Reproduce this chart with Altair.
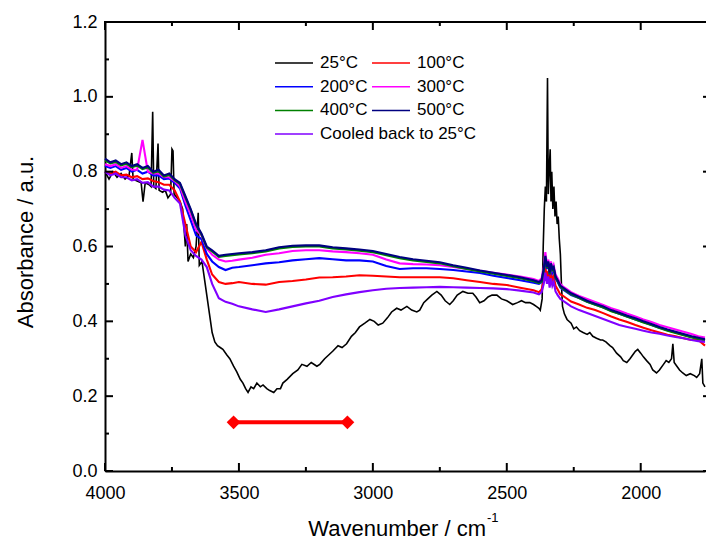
import altair as alt
import pandas as pd

FONT = "Liberation Sans"

# ---------------- data ----------------
wavenumber = [4000, 3980, 3960, 3940, 3920, 3900, 3880, 3860, 3840, 3820,
              3800, 3780, 3760, 3740, 3720, 3700, 3680, 3660, 3640, 3620,
              3600, 3575, 3550, 3525, 3500, 3450, 3400, 3350, 3300, 3250,
              3200, 3150, 3100, 3050, 3000, 2950, 2900, 2850, 2800, 2750,
              2700, 2650, 2600, 2550, 2500, 2450, 2400, 2380, 2370, 2362,
              2356, 2350, 2345, 2340, 2335, 2330, 2325, 2318, 2310, 2300,
              2290, 2280, 2260, 2230, 2200, 2170, 2140, 2110, 2080, 2050,
              2020, 1990, 1960, 1930, 1900, 1870, 1840, 1810, 1785, 1760]

abs_100C = [0.800, 0.795, 0.800, 0.790, 0.792, 0.785, 0.788, 0.780, 0.782, 0.775,
            0.772, 0.765, 0.765, 0.750, 0.720, 0.660, 0.600, 0.585, 0.612, 0.565,
            0.525, 0.505, 0.500, 0.502, 0.505, 0.500, 0.498, 0.505, 0.508, 0.512,
            0.517, 0.518, 0.520, 0.523, 0.522, 0.520, 0.518, 0.518, 0.518, 0.518,
            0.515, 0.510, 0.505, 0.500, 0.497, 0.490, 0.483, 0.478, 0.485, 0.510,
            0.545, 0.515, 0.535, 0.505, 0.530, 0.510, 0.520, 0.495, 0.485, 0.472,
            0.468, 0.463, 0.453, 0.445, 0.436, 0.430, 0.422, 0.413, 0.405, 0.398,
            0.390, 0.383, 0.376, 0.370, 0.364, 0.360, 0.355, 0.350, 0.350, 0.335]

abs_200C = [0.815, 0.810, 0.815, 0.805, 0.810, 0.800, 0.805, 0.795, 0.800, 0.790,
            0.790, 0.780, 0.782, 0.770, 0.755, 0.710, 0.670, 0.630, 0.620, 0.580,
            0.560, 0.545, 0.537, 0.543, 0.545, 0.550, 0.555, 0.558, 0.563, 0.566,
            0.569, 0.566, 0.563, 0.563, 0.560, 0.548, 0.540, 0.542, 0.542, 0.540,
            0.537, 0.533, 0.529, 0.522, 0.516, 0.510, 0.503, 0.500, 0.505, 0.535,
            0.565, 0.540, 0.555, 0.525, 0.550, 0.530, 0.540, 0.515, 0.505, 0.490,
            0.485, 0.480, 0.470, 0.462, 0.452, 0.445, 0.437, 0.428, 0.420, 0.413,
            0.405, 0.398, 0.390, 0.383, 0.376, 0.370, 0.364, 0.358, 0.354, 0.350]

abs_300C = [0.820, 0.815, 0.820, 0.810, 0.815, 0.805, 0.805, 0.885, 0.800, 0.795,
            0.795, 0.785, 0.785, 0.775, 0.760, 0.720, 0.685, 0.645, 0.630, 0.595,
            0.578, 0.565, 0.560, 0.562, 0.565, 0.570, 0.578, 0.582, 0.588, 0.590,
            0.590, 0.587, 0.585, 0.582, 0.578, 0.565, 0.555, 0.553, 0.552, 0.550,
            0.545, 0.540, 0.535, 0.530, 0.525, 0.520, 0.513, 0.508, 0.515, 0.545,
            0.585, 0.550, 0.565, 0.530, 0.560, 0.540, 0.550, 0.525, 0.515, 0.500,
            0.493, 0.488, 0.478, 0.468, 0.460, 0.452, 0.444, 0.435, 0.428, 0.420,
            0.413, 0.405, 0.398, 0.390, 0.384, 0.378, 0.372, 0.366, 0.360, 0.357]

abs_400C = [0.830, 0.822, 0.826, 0.817, 0.821, 0.812, 0.816, 0.807, 0.811, 0.797,
            0.801, 0.787, 0.791, 0.777, 0.767, 0.731, 0.697, 0.657, 0.632, 0.597,
            0.587, 0.572, 0.575, 0.577, 0.579, 0.582, 0.587, 0.595, 0.599, 0.600,
            0.600, 0.595, 0.592, 0.589, 0.585, 0.577, 0.569, 0.563, 0.559, 0.555,
            0.547, 0.540, 0.533, 0.527, 0.521, 0.515, 0.507, 0.502, 0.507, 0.537,
            0.570, 0.542, 0.557, 0.527, 0.552, 0.537, 0.542, 0.517, 0.507, 0.492,
            0.487, 0.482, 0.472, 0.462, 0.452, 0.444, 0.437, 0.427, 0.420, 0.412,
            0.405, 0.397, 0.390, 0.382, 0.375, 0.369, 0.363, 0.357, 0.353, 0.349]

abs_500C = [0.835, 0.825, 0.830, 0.820, 0.825, 0.815, 0.820, 0.810, 0.815, 0.800,
            0.805, 0.790, 0.795, 0.780, 0.770, 0.735, 0.700, 0.660, 0.635, 0.600,
            0.590, 0.575, 0.578, 0.580, 0.582, 0.585, 0.590, 0.598, 0.602, 0.603,
            0.603, 0.598, 0.595, 0.592, 0.588, 0.580, 0.572, 0.566, 0.562, 0.558,
            0.550, 0.543, 0.536, 0.530, 0.524, 0.518, 0.510, 0.505, 0.510, 0.540,
            0.575, 0.545, 0.560, 0.530, 0.555, 0.540, 0.545, 0.520, 0.510, 0.495,
            0.490, 0.485, 0.475, 0.465, 0.455, 0.447, 0.440, 0.430, 0.423, 0.415,
            0.408, 0.400, 0.393, 0.385, 0.378, 0.372, 0.366, 0.360, 0.356, 0.352]

abs_cooled = [0.800, 0.790, 0.795, 0.785, 0.785, 0.777, 0.780, 0.770, 0.772, 0.760,
              0.760, 0.752, 0.750, 0.730, 0.715, 0.630, 0.590, 0.575, 0.565, 0.545,
              0.500, 0.462, 0.452, 0.447, 0.440, 0.432, 0.425, 0.432, 0.440, 0.448,
              0.455, 0.465, 0.472, 0.478, 0.483, 0.487, 0.489, 0.490, 0.491, 0.492,
              0.491, 0.490, 0.489, 0.488, 0.486, 0.482, 0.477, 0.472, 0.478, 0.500,
              0.530, 0.500, 0.520, 0.490, 0.515, 0.495, 0.505, 0.480, 0.470, 0.460,
              0.455, 0.450, 0.440, 0.430, 0.422, 0.414, 0.406, 0.398, 0.390, 0.385,
              0.380, 0.375, 0.370, 0.367, 0.362, 0.358, 0.355, 0.350, 0.347, 0.345]

# 25 °C spectrum: (wavenumber, absorbance)
spectrum_25C = [
    (4000, 0.80), (3985, 0.78), (3970, 0.80), (3955, 0.785), (3940, 0.795),
    (3925, 0.78), (3910, 0.79), (3900, 0.85), (3895, 0.78), (3880, 0.775),
    (3865, 0.77), (3858, 0.72), (3850, 0.77), (3835, 0.765), (3828, 0.76),
    (3822, 0.96), (3818, 0.76), (3810, 0.755), (3802, 0.875), (3798, 0.75),
    (3785, 0.745), (3775, 0.75), (3765, 0.73), (3755, 0.74), (3750, 0.86),
    (3746, 0.855), (3742, 0.74), (3730, 0.73), (3720, 0.72), (3710, 0.70),
    (3700, 0.60), (3695, 0.66), (3690, 0.56), (3680, 0.58), (3670, 0.57),
    (3660, 0.60), (3652, 0.69), (3648, 0.55), (3638, 0.56), (3630, 0.52),
    (3620, 0.47), (3610, 0.42), (3600, 0.37), (3590, 0.345), (3580, 0.335),
    (3570, 0.33), (3560, 0.325), (3545, 0.31), (3534, 0.30), (3520, 0.28),
    (3508, 0.265), (3495, 0.245), (3485, 0.235), (3475, 0.22), (3466, 0.21),
    (3455, 0.225), (3445, 0.22), (3433, 0.235), (3420, 0.225), (3410, 0.23),
    (3396, 0.22), (3385, 0.215), (3370, 0.21), (3358, 0.22), (3345, 0.22),
    (3336, 0.235), (3320, 0.245), (3299, 0.26), (3280, 0.27), (3265, 0.285),
    (3246, 0.28), (3230, 0.29), (3209, 0.28), (3198, 0.285), (3180, 0.30),
    (3165, 0.31), (3150, 0.32), (3130, 0.335), (3115, 0.33), (3098, 0.34),
    (3080, 0.36), (3065, 0.37), (3050, 0.385), (3030, 0.395), (3011, 0.405),
    (2995, 0.40), (2980, 0.39), (2963, 0.395), (2945, 0.41), (2930, 0.425),
    (2911, 0.435), (2895, 0.43), (2873, 0.44), (2855, 0.43), (2836, 0.425),
    (2825, 0.43), (2810, 0.45), (2795, 0.46), (2780, 0.47), (2761, 0.48),
    (2745, 0.47), (2730, 0.455), (2713, 0.445), (2700, 0.455), (2685, 0.47),
    (2664, 0.48), (2645, 0.475), (2627, 0.475), (2615, 0.465), (2601, 0.45),
    (2585, 0.455), (2570, 0.465), (2555, 0.47), (2537, 0.47), (2520, 0.46),
    (2500, 0.455), (2478, 0.445), (2460, 0.45), (2445, 0.455), (2430, 0.45),
    (2414, 0.45), (2400, 0.445), (2390, 0.44), (2380, 0.435), (2375, 0.43),
    (2368, 0.46), (2364, 0.60), (2360, 0.70), (2356, 0.76), (2352, 0.72),
    (2348, 1.05), (2345, 0.74), (2342, 0.80), (2338, 0.86), (2335, 0.72),
    (2332, 0.80), (2328, 0.70), (2324, 0.76), (2320, 0.68), (2316, 0.72),
    (2312, 0.66), (2308, 0.68), (2304, 0.62), (2300, 0.58), (2296, 0.50),
    (2292, 0.44), (2285, 0.42), (2275, 0.405), (2260, 0.395), (2250, 0.38),
    (2240, 0.385), (2228, 0.375), (2215, 0.37), (2200, 0.365), (2190, 0.37),
    (2179, 0.36), (2165, 0.355), (2150, 0.35), (2142, 0.35), (2130, 0.345),
    (2115, 0.335), (2105, 0.33), (2090, 0.315), (2075, 0.305), (2065, 0.295),
    (2052, 0.29), (2040, 0.30), (2030, 0.31), (2020, 0.32), (2011, 0.325),
    (2000, 0.315), (1990, 0.305), (1978, 0.295), (1965, 0.285), (1955, 0.27),
    (1941, 0.262), (1930, 0.27), (1915, 0.285), (1905, 0.295), (1895, 0.29),
    (1885, 0.30), (1880, 0.34), (1875, 0.29), (1865, 0.28), (1855, 0.27),
    (1843, 0.262), (1830, 0.255), (1815, 0.26), (1800, 0.255), (1791, 0.25),
    (1780, 0.26), (1772, 0.30), (1768, 0.235), (1760, 0.225),
]

series_names = ["25°C", "100°C", "200°C", "300°C", "400°C", "500°C",
                "Cooled back to 25°C"]
series_colors = ["#000000", "#FF0000", "#0000FF", "#FF00FF", "#008000",
                 "#000080", "#8000FF"]

x_major = [4000, 3500, 3000, 2500, 2000]
x_minor = [3750, 3250, 2750, 2250]
y_major = [0.0, 0.2, 0.4, 0.6, 0.8, 1.0, 1.2]
y_minor = [0.1, 0.3, 0.5, 0.7, 0.9, 1.1]

band_wn = [3520, 3095]
band_abs = [0.13, 0.13]

# ---------------- chart ----------------
W, H = 600, 449
xs = alt.Scale(domain=[1760, 4000], reverse=True, nice=False, zero=False)
ys = alt.Scale(domain=[0, 1.2], nice=False, zero=False)

x_axis = alt.Axis(values=x_major, format="d", title=None, ticks=False,
                  labelFlush=False, labelOverlap=False, labelFontSize=18,
                  labelFont=FONT, labelColor="black", labelPadding=13,
                  domainColor="black", domainWidth=2, grid=False)
y_axis = alt.Axis(values=y_major, format=".1f", title=None, ticks=False,
                  labelOverlap=False, labelFontSize=18, labelFont=FONT,
                  labelColor="black", labelPadding=8,
                  domainColor="black", domainWidth=2, grid=False)


def X(field):
    return alt.X(field, type="quantitative", scale=xs, axis=x_axis)


def Y(field):
    return alt.Y(field, type="quantitative", scale=ys, axis=y_axis)


layers = []

df25 = pd.DataFrame(spectrum_25C, columns=["wn", "a"])
layers.append(
    alt.Chart(df25).mark_line(color=series_colors[0], strokeWidth=1.6)
    .encode(x=X("wn"), y=Y("a"))
)

other = [abs_100C, abs_200C, abs_300C, abs_400C, abs_500C, abs_cooled]
for vals, color in zip(other, series_colors[1:]):
    assert len(vals) == len(wavenumber)
    d = pd.DataFrame({"wn": wavenumber, "a": vals})
    layers.append(
        alt.Chart(d).mark_line(color=color, strokeWidth=2.1)
        .encode(x=X("wn"), y=Y("a"))
    )

band = pd.DataFrame({"wn": band_wn, "a": band_abs})
layers.append(alt.Chart(band).mark_line(color="#FF0000", strokeWidth=4)
              .encode(x=X("wn"), y=Y("a")))
layers.append(alt.Chart(band).mark_point(shape="diamond", filled=True, size=190,
                                         color="#FF0000", opacity=1)
              .encode(x=X("wn"), y=Y("a")))

# inward ticks (Origin style)
dxM = pd.DataFrame({"wn": x_major})
dxm = pd.DataFrame({"wn": x_minor})
dyM = pd.DataFrame({"a": y_major})
dym = pd.DataFrame({"a": y_minor})
tk = dict(color="black", strokeWidth=2)
RX = W + 6
layers += [
    alt.Chart(dxM).mark_rule(**tk).encode(x=X("wn"), y=alt.value(H), y2=alt.value(H - 8)),
    alt.Chart(dxm).mark_rule(**tk).encode(x=X("wn"), y=alt.value(H), y2=alt.value(H - 4)),
    alt.Chart(dxM).mark_rule(**tk).encode(x=X("wn"), y=alt.value(0), y2=alt.value(8)),
    alt.Chart(dxm).mark_rule(**tk).encode(x=X("wn"), y=alt.value(0), y2=alt.value(4)),
    alt.Chart(dyM).mark_rule(**tk).encode(y=Y("a"), x=alt.value(0), x2=alt.value(8)),
    alt.Chart(dym).mark_rule(**tk).encode(y=Y("a"), x=alt.value(0), x2=alt.value(4)),
    alt.Chart(dyM).mark_rule(**tk).encode(y=Y("a"), x=alt.value(RX), x2=alt.value(RX - 8)),
    alt.Chart(dym).mark_rule(**tk).encode(y=Y("a"), x=alt.value(RX), x2=alt.value(RX - 4)),
]
layers.append(alt.Chart(pd.DataFrame({"v": [0]})).mark_rule(color="black", strokeWidth=2)
              .encode(x=alt.value(-1), x2=alt.value(W + 2), y=alt.value(0)))

# legend (two columns, row-wise)
for i, (name, color) in enumerate(zip(series_names, series_colors)):
    row, col = divmod(i, 2)
    ly = 41 + row * 23.7
    lx = [170, 267][col]
    dl = pd.DataFrame({"label": [name]})
    layers.append(alt.Chart(dl).mark_rule(color=color, strokeWidth=1.5)
                  .encode(x=alt.value(lx), x2=alt.value(lx + 38), y=alt.value(ly)))
    layers.append(alt.Chart(dl).mark_text(align="left", baseline="middle", fontSize=17,
                                          font=FONT, color="black")
                  .encode(x=alt.value(lx + 45), y=alt.value(ly), text="label:N"))

# axis titles
layers.append(alt.Chart(pd.DataFrame({"t": ["Absorbance / a.u."]}))
              .mark_text(angle=270, align="center", baseline="middle", fontSize=22,
                         font=FONT, color="black")
              .encode(x=alt.value(-79), y=alt.value(220), text="t:N"))
layers.append(alt.Chart(pd.DataFrame({"t": ["Wavenumber / cm"]}))
              .mark_text(align="right", baseline="alphabetic", fontSize=22,
                         font=FONT, color="black")
              .encode(x=alt.value(381), y=alt.value(514), text="t:N"))
layers.append(alt.Chart(pd.DataFrame({"t": ["-1"]}))
              .mark_text(align="left", baseline="alphabetic", fontSize=13,
                         font=FONT, color="black")
              .encode(x=alt.value(382), y=alt.value(500), text="t:N"))

chart = alt.layer(*layers).properties(
    width=W, height=H,
    autosize=alt.AutoSizeParams(type="none"),
    padding={"left": 105, "top": 22, "right": 1, "bottom": 70},
    background="white",
).configure_view(stroke=None)

chart.save("out.html", embed_options={"renderer": "svg", "actions": False})
